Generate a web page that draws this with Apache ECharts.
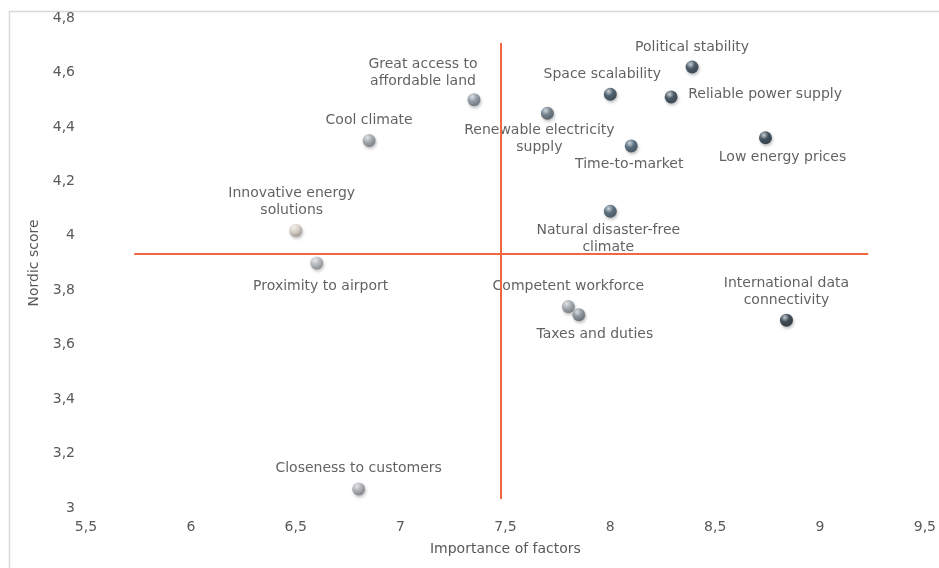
<!DOCTYPE html>
<html>
<head>
<meta charset="utf-8">
<script src="https://cdn.jsdelivr.net/npm/echarts@6/dist/echarts.min.js"></script>
<style>
  html, body { margin: 0; padding: 0; background: #fff; }
  #chart { width: 939px; height: 568px; }
</style>
</head>
<body>
<div id="chart"></div>
<script>
// Factors, how important each is (x) and how the Nordics score on it (y)
const factors = [
  'Political stability',
  'Space scalability',
  'Reliable power supply',
  'Renewable electricity\nsupply',
  'Time-to-market',
  'Low energy prices',
  'Great access to\naffordable land',
  'Cool climate',
  'Innovative energy\nsolutions',
  'Proximity to airport',
  'Natural disaster-free\nclimate',
  'Competent workforce',
  'Taxes and duties',
  'International data\nconnectivity',
  'Closeness to customers'
];
const importance = [8.39, 8.0, 8.29, 7.7, 8.1, 8.74, 7.35, 6.85, 6.5, 6.6, 8.0, 7.8, 7.85, 8.84, 6.8];
const nordicScore = [4.62, 4.52, 4.51, 4.45, 4.33, 4.36, 4.5, 4.35, 4.02, 3.9, 4.09, 3.74, 3.71, 3.69, 3.07];

// Average cross-hair lines
const avgImportance = 7.48;
const avgScore = 3.933;
const hLineRange = [5.73, 9.23];
const vLineRange = [3.033, 4.708];

// Axis ticks
const xTicks = [5.5, 6, 6.5, 7, 7.5, 8, 8.5, 9, 9.5];
const yTicks = [3, 3.2, 3.4, 3.6, 3.8, 4, 4.2, 4.4, 4.6, 4.8];

// Marker base colours (one per factor)
const sphereColors = [
  '#2b3f50', '#2e4558', '#2a3d4e', '#5d6f7e', '#3d586c',
  '#1f3343', '#8593a0', '#9aa3ab', '#dcd3c8', '#b4b9be',
  '#405a6c', '#9ba3aa', '#7d8a95', '#1c2c39', '#a9adb2'
];
// Label centre relative to the marker centre, in pixels
const labelOffsets = [
  [0, -20], [-8, -20], [94, -3], [-8, 26], [-2, 18],
  [17, 20], [-51, -27], [0, -20], [-4, -28], [4, 23],
  [-2, 28], [0, -20], [16, 20], [0, -28], [0, -21]
];

function shade(hex, amt) {
  const n = parseInt(hex.slice(1), 16);
  let r = (n >> 16) & 255, g = (n >> 8) & 255, b = n & 255;
  const f = c => Math.max(0, Math.min(255, Math.round(amt >= 0 ? c + (255 - c) * amt : c * (1 + amt))));
  return 'rgb(' + f(r) + ',' + f(g) + ',' + f(b) + ')';
}
function sphere(hex) {
  return {
    type: 'radial', x: 0.38, y: 0.3, r: 0.75,
    colorStops: [
      { offset: 0, color: shade(hex, 0.75) },
      { offset: 0.45, color: hex },
      { offset: 1, color: shade(hex, -0.35) }
    ]
  };
}

const points = factors.map((name, i) => ({
  name: name,
  value: [importance[i], nordicScore[i]],
  itemStyle: { color: sphere(sphereColors[i]) },
  label: { offset: labelOffsets[i] }
}));

const fmt = v => String(+v.toFixed(1)).replace('.', ',');
const font = '"DejaVu Sans", Verdana, sans-serif';

const chart = echarts.init(document.getElementById('chart'), null, { renderer: 'canvas' });
chart.setOption({
  animation: false,
  backgroundColor: '#ffffff',
  graphic: [{
    type: 'rect', left: 7, top: 9, z: -10, silent: true,
    shape: { width: 1000, height: 700 },
    style: { fill: 'none', stroke: '#d9d9d9', lineWidth: 1.5 }
  }],
  grid: { left: 86, right: 13, top: 18, bottom: 60 },
  xAxis: {
    type: 'value', min: xTicks[0], max: xTicks[xTicks.length - 1], interval: 0.5,
    name: 'Importance of factors', nameLocation: 'middle', nameGap: 34,
    nameTextStyle: { color: '#595959', fontSize: 14, fontFamily: font },
    axisLine: { show: false }, axisTick: { show: false }, splitLine: { show: false },
    axisLabel: { color: '#595959', fontSize: 14, fontFamily: font, margin: 12, formatter: fmt }
  },
  yAxis: {
    type: 'value', min: yTicks[0], max: yTicks[yTicks.length - 1], interval: 0.2,
    name: 'Nordic score', nameLocation: 'middle', nameGap: 40,
    nameTextStyle: { color: '#595959', fontSize: 14, fontFamily: font },
    axisLine: { show: false }, axisTick: { show: false }, splitLine: { show: false },
    axisLabel: { color: '#595959', fontSize: 14, fontFamily: font, margin: 11, formatter: fmt }
  },
  series: [{
    type: 'scatter',
    symbol: 'circle',
    symbolSize: 13,
    data: points,
    itemStyle: {
      shadowBlur: 3, shadowOffsetX: 1, shadowOffsetY: 2, shadowColor: 'rgba(0,0,0,0.3)'
    },
    label: {
      show: true, position: 'inside', formatter: p => p.name,
      color: '#3a3a3a', fontSize: 14, fontFamily: font, lineHeight: 17, align: 'center'
    },
    markLine: {
      silent: true, symbol: 'none', z: 3,
      label: { show: false },
      lineStyle: { color: '#f26640', width: 2, type: 'solid' },
      data: [
        [{ coord: [hLineRange[0], avgScore] }, { coord: [hLineRange[1], avgScore] }],
        [{ coord: [avgImportance, vLineRange[0]] }, { coord: [avgImportance, vLineRange[1]] }]
      ]
    }
  }]
});
</script>
</body>
</html>
